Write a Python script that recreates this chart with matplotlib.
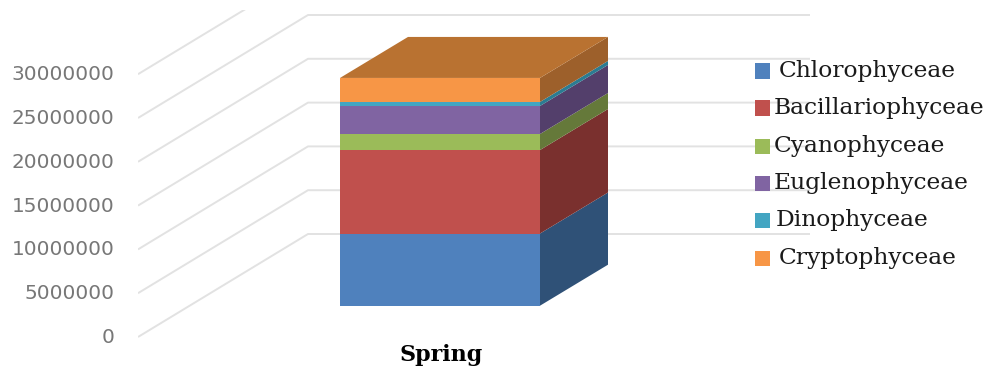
"""Stacked 3D-style column of phytoplankton classes for one season."""
import matplotlib
matplotlib.use("Agg")
import matplotlib.pyplot as plt
from matplotlib.patches import Polygon, Rectangle
from matplotlib.transforms import ScaledTranslation
import numpy as np

season = "Spring"
classes = ["Chlorophyceae", "Bacillariophyceae", "Cyanophyceae",
           "Euglenophyceae", "Dinophyceae", "Cryptophyceae"]
abundance = [8240000, 9530000, 1830000, 3200000, 460000, 2740000]
ticks = [0, 5000000, 10000000, 15000000, 20000000, 25000000, 30000000]

front_colors = ["#4F81BD", "#C0504D", "#9BBB59", "#8064A2", "#43A5C2", "#F79646"]
side_colors = ["#2F5177", "#7A302E", "#65793A", "#533F6B", "#2B7C92", "#9D602B"]
top_color = "#B97231"
legend_y = [71, 108, 146, 183, 220, 258]
legend_text_x = [779, 774, 774, 774, 776, 779]

W, H = 986, 367
PX_PER_UNIT = 43.8 / 5000000
ZERO_PX = 337


def val(ypx):
    # image row -> value on the front plane of the axis
    return (ZERO_PX - ypx) / PX_PER_UNIT


fig = plt.figure(figsize=(W / 100, H / 100), dpi=100)
ax = fig.add_axes([138 / W, 0, (W - 138) / W, (H - 10) / H])
ax.set_xlim(138, W)
ax.set_ylim(val(H), val(10))
for s in ax.spines.values():
    s.set_visible(False)
ax.set_xticks([])
ax.set_yticks(ticks)
ax.set_yticklabels([str(t) for t in ticks], fontsize=14.4, color="#777777",
                   family="DejaVu Sans")
ax.tick_params(axis="y", length=0, pad=17)
nudge = ScaledTranslation(0, 1.5 / 100, fig.dpi_scale_trans)
for lab in ax.get_yticklabels():
    lab.set_transform(lab.get_transform() + nudge)

# walls: each gridline runs up the side wall and then along the back
wall_dx, wall_dy = 170, 103 / PX_PER_UNIT
for t in ticks:
    ax.plot([138, 138 + wall_dx, 810], [t, t + wall_dy, t + wall_dy],
            color="#E2E2E2", lw=1.4, zorder=1, solid_capstyle="butt")

# column sits part way into the floor
left, right = 340, 540
depth_x, depth_y = 68, 41 / PX_PER_UNIT
floor = val(305.7)
tops = floor + np.cumsum(abundance)
bottoms = tops - np.array(abundance)

for b, t, fc, sc in zip(bottoms, tops, front_colors, side_colors):
    ax.add_patch(Rectangle((left, b), right - left, t - b, fc=fc, ec="none", zorder=3))
    ax.add_patch(Polygon([(right, b), (right + depth_x, b + depth_y),
                          (right + depth_x, t + depth_y), (right, t)],
                         fc=sc, ec="none", zorder=3))
ax.add_patch(Polygon([(left, tops[-1]), (left + depth_x, tops[-1] + depth_y),
                      (right + depth_x, tops[-1] + depth_y), (right, tops[-1])],
                     fc=top_color, ec="none", zorder=3))

ax.text((left + right) / 2 + 1, val(355), season, ha="center", va="center",
        family="DejaVu Serif", fontweight="bold", fontsize=16, color="black")

# legend entries are hand placed
for name, fc, y, tx in zip(classes, front_colors, legend_y, legend_text_x):
    ax.add_patch(Rectangle((755, val(y + 7.5)), 15, 15 / PX_PER_UNIT, fc=fc, ec="none", zorder=4))
    ax.text(tx, val(y), name, ha="left", va="center", family="DejaVu Serif",
            fontsize=16.8, color="#1A1A1A")

fig.savefig("out.png", dpi=100)
